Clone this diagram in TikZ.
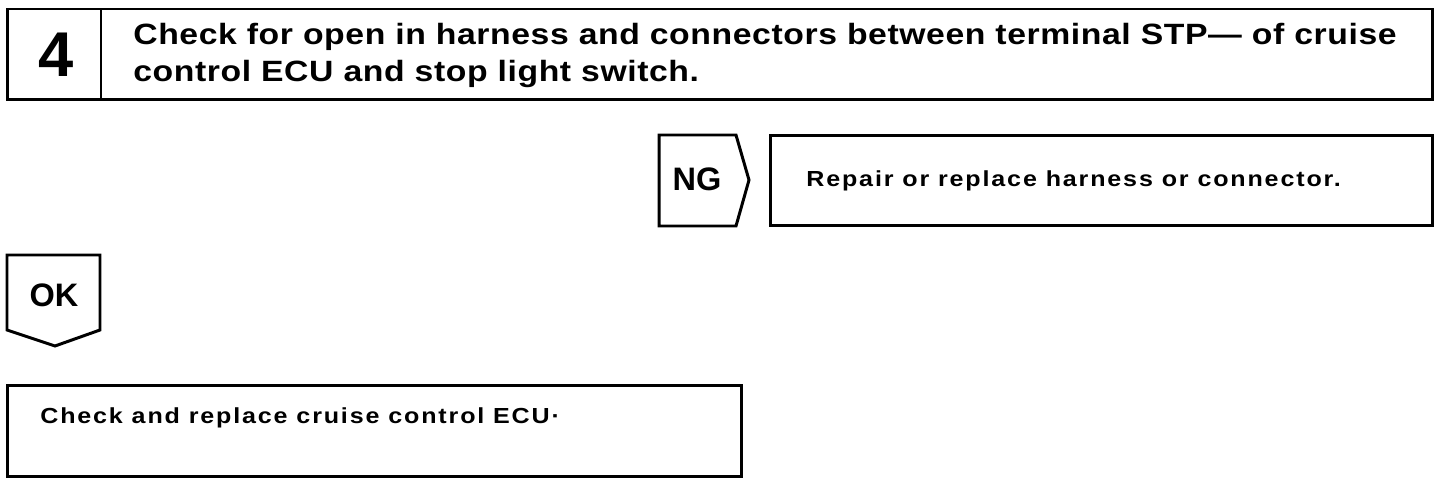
\documentclass[tikz,border=0pt]{standalone}
\usepackage{fontspec}
\setmainfont{Liberation Sans}
\newfontfamily\headfont[FakeStretch=1.15, LetterSpace=2.0]{Liberation Sans}
\newfontfamily\bodyfont[FakeStretch=1.15, LetterSpace=8.5]{Liberation Sans}
\begin{document}
\begin{tikzpicture}[
        x=0.02cm, y=-0.02cm,
        box/.style={draw, line width=1.7pt, inner sep=0pt},
        headtext/.style={font=\headfont\bfseries\fontsize{16.7}{20}\selectfont, anchor=base west, inner sep=0pt},
        bodytext/.style={font=\bodyfont\bfseries\fontsize{12.4}{15}\selectfont, anchor=base west, inner sep=0pt},
        tagtext/.style={font=\fontsize{18.5}{22}\selectfont\bfseries, inner sep=0pt}
    ]
        \useasboundingbox (0,0) rectangle (1440,486);

        % Step header
        \node[box, minimum width=28.52cm, minimum height=1.82cm] (step) at (720,54.5) {};
        \draw[line width=1.7pt] (101,9) -- (101,100);
        \node[font=\fontsize{36}{40}\selectfont\bfseries, anchor=base, inner sep=0pt] (num) at (56,77) {4};
        \node[headtext] (title1) at (133,45) {Check for open in harness and connectors between terminal STP— of cruise};
        \node[headtext] (title2) at (133,82) {control ECU and stop light switch.};

        % NG branch
        \draw[line width=1.7pt] (659,135) -- (736,135) -- (749,180) -- (736,226) -- (659,226) -- cycle;
        \node[tagtext] (ng) at (697,179) {NG};
        \node[box, minimum width=13.26cm, minimum height=1.82cm] (repair) at (1101.5,180.5) {};
        \node[bodytext] (repairtext) at (806,187) {Repair or replace harness or connector.};

        % OK branch
        \draw[line width=1.7pt] (7,255) -- (100,255) -- (100,330) -- (55,346) -- (7,330) -- cycle;
        \node[tagtext] (ok) at (54,295) {OK};
        \node[box, minimum width=14.7cm, minimum height=1.84cm] (ecu) at (374.5,431) {};
        \node[bodytext] (ecutext) at (40,423) {Check and replace cruise control ECU·};
    \end{tikzpicture}
\end{document}
